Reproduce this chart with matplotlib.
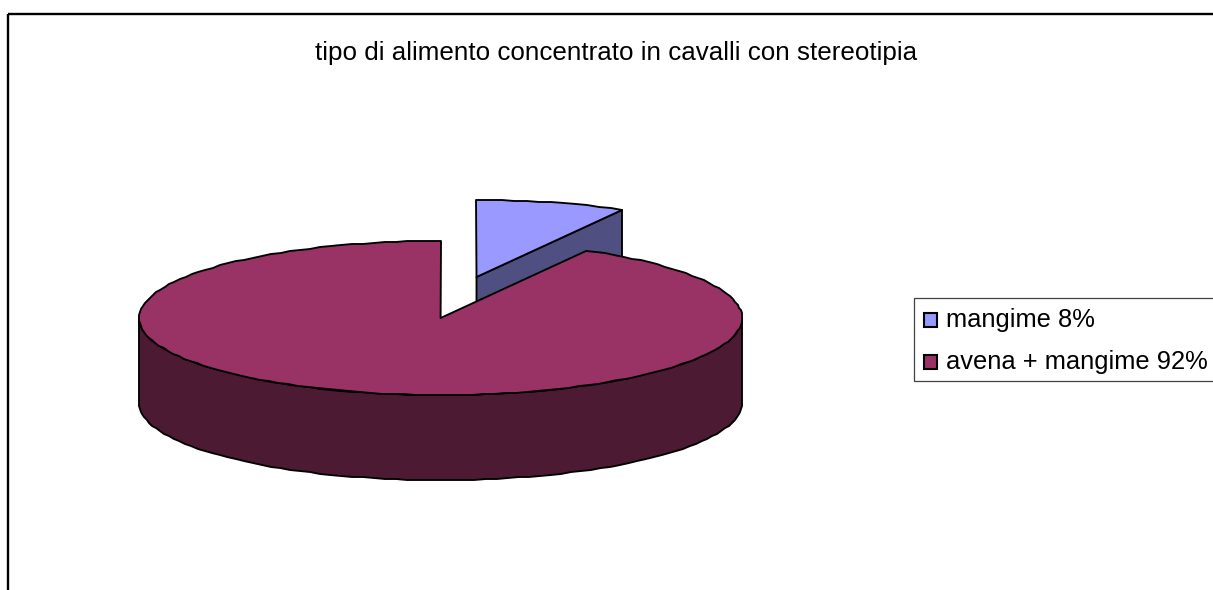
import matplotlib.pyplot as plt
from matplotlib.patches import Polygon, Rectangle
import numpy as np

plt.rcParams['font.family'] = ['Liberation Sans', 'DejaVu Sans']

title = "tipo di alimento concentrato in cavalli con stereotipia"
labels = ["mangime", "avena + mangime"]
values = [8, 92]
top_colors = ["#9999FF", "#993366"]
side_colors = ["#4F4F82", "#4D1A33"]

# pie geometry in pixels, the pie is squashed to look 3d
rx = 301.5
ry = 77
depth = 85
centers = [(476.5, 277), (440.6, 318)]

fig = plt.figure(figsize=(12.13, 5.9), dpi=100)
ax = fig.add_axes([0, 0, 1, 1])
ax.set_xlim(0, 1213)
ax.set_ylim(590, 0)
ax.axis("off")


def arc(c, a0, a1):
    # angle is clockwise from the top, rounded to pixels so edge looks like the original
    n = max(2, int(abs(a1 - a0) / (2 * np.pi) * 170))
    t = np.linspace(a0, a1, n)
    x = np.round(c[0] + rx * np.sin(t))
    y = np.round(c[1] - ry * np.cos(t))
    return np.column_stack([x, y])


fracs = np.array(values) / sum(values)
ends = np.cumsum(fracs) * 2 * np.pi
starts = ends - fracs * 2 * np.pi

for i in range(len(values)):
    c = centers[i]
    a0, a1 = starts[i], ends[i]
    edge = dict(edgecolor="black", linewidth=1.35, joinstyle="round")
    # cut face of the slice, only the first one shows it
    if a0 == 0:
        tip = arc(c, a1, a1)[0]
        face = [c, tip, (tip[0], tip[1] + depth), (c[0], c[1] + depth)]
        ax.add_patch(Polygon(face, facecolor=side_colors[i], **edge))
    # rim, only the part facing the viewer
    r0, r1 = max(a0, np.pi / 2), min(a1, 3 * np.pi / 2)
    if r1 > r0:
        rim = arc(c, r0, r1)
        low = rim[::-1] + [0, depth]
        ax.add_patch(Polygon(np.vstack([rim, low]), facecolor=side_colors[i], **edge))
    top = np.vstack([[c], arc(c, a0, a1)])
    ax.add_patch(Polygon(top, facecolor=top_colors[i], **edge))

# outer frame runs off the image on the right and bottom
ax.add_patch(Rectangle((7.5, 14), 1300, 700, fill=False, edgecolor="black", linewidth=1.7))

ax.text(616, 53, title, ha="center", va="center", fontsize=18.7, color="black")

# legend box, also cut by the image edge
ax.add_patch(Rectangle((914, 297.5), 400, 83.5, facecolor="white", edgecolor="#404040", linewidth=0.9))
ys = [320, 362]
for i in range(len(labels)):
    ax.add_patch(Rectangle((923.5, ys[i] - 7), 13, 13.5, facecolor=top_colors[i], edgecolor="black", linewidth=1.5))
    ax.text(946, ys[i], f"{labels[i]} {values[i]}%", ha="left", va="center", fontsize=18.4, color="black")

fig.savefig("out.png", dpi=100)
